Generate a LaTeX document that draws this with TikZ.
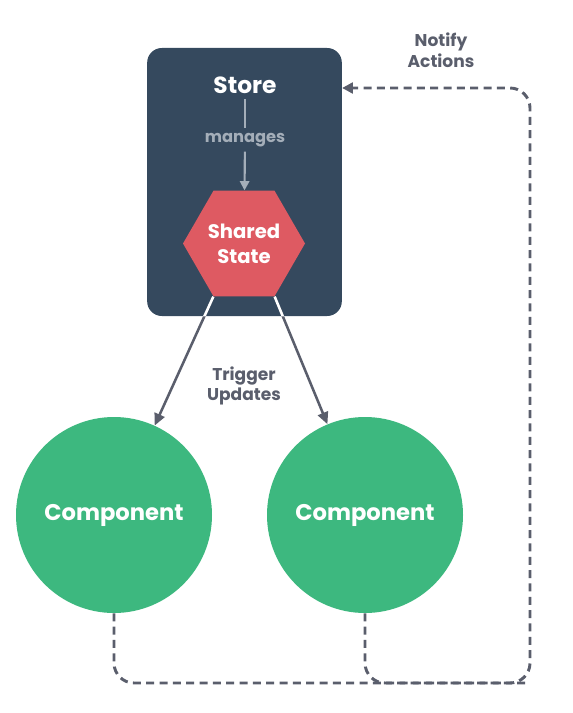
\documentclass[tikz,border=0pt]{standalone}
\usepackage{fontspec}
\setmainfont{Poppins}
\usetikzlibrary{shapes.geometric, arrows.meta, positioning, calc}
\definecolor{storeblue}{HTML}{35495E}
\definecolor{statered}{HTML}{DE5A62}
\definecolor{compgreen}{HTML}{3DB87F}
\definecolor{linegray}{HTML}{5A5E6C}
\definecolor{softgray}{HTML}{A4AEB9}

\begin{document}
\begin{tikzpicture}[
  x=0.75pt, y=-0.75pt,
  storebox/.style={rectangle, rounded corners=11pt, fill=storeblue,
                   minimum width=146pt, minimum height=201pt},
  hexstate/.style={regular polygon, regular polygon sides=6, fill=statered,
                   minimum size=91.5pt, inner sep=0pt, align=center, text=white,
                   font=\bfseries\fontsize{14.7}{18.7}\selectfont},
  comp/.style={circle, fill=compgreen, minimum size=147pt, text=white,
               font=\bfseries\fontsize{17}{20}\selectfont},
  title/.style={text=white, font=\bfseries\fontsize{17.5}{20}\selectfont},
  tag/.style={text=linegray, align=center, font=\bfseries\fontsize{12.8}{15.5}\selectfont},
  soft/.style={softgray, line width=1.6pt},
  arr/.style={-{Triangle[length=9pt, width=8pt]}, linegray, line width=1.9pt},
  notify/.style={linegray, line width=2.2pt, dash pattern=on 6pt off 4pt}
]
  \useasboundingbox (0,0) rectangle (572,713);

  % store with the shared state
  \node[storebox] (store) at (244.5,182) {};
  \node[title] (storelabel) at (245,85) {Store};
  \node[text=softgray, font=\bfseries\fontsize{12.2}{14}\selectfont] (manages) at (245,140) {manages};
  \node[hexstate] (state) at (244,243.5) {Shared\\State};
  \draw[soft, shorten <=1pt] (storelabel) -- (manages);
  \draw[soft, -{Triangle[length=7pt, width=7pt]}] (manages) -- (state);

  % components
  \node[comp] (compL) at (114,515) {Component};
  \node[comp] (compR) at (365,515) {Component};
  \draw[arr] (state.corner 4) -- (compL);
  \draw[arr] (state.corner 5) -- (compR);
  \begin{scope}
    \clip[rounded corners=11pt] (store.south west) rectangle (store.north east);
    \draw[white, line width=1.9pt] (state.corner 4) -- (compL);
    \draw[white, line width=1.9pt] (state.corner 5) -- (compR);
  \end{scope}
  \node[tag] (trigger) at (244,386) {Trigger\\Updates};

  % notify loop
  \coordinate (loopBR) at (530,683);
  \coordinate (loopTR) at (530,88);
  \draw[notify, rounded corners=15pt, -{Triangle[length=8pt, width=8pt]}]
    (compL.south) |- (loopBR) -- (loopTR) -- (loopTR -| store.east);
  \draw[notify, rounded corners=15pt] (compR.south) |- (loopBR);
  \node[tag] (notifylabel) at (441,50) {Notify\\Actions};
\end{tikzpicture}
\end{document}
